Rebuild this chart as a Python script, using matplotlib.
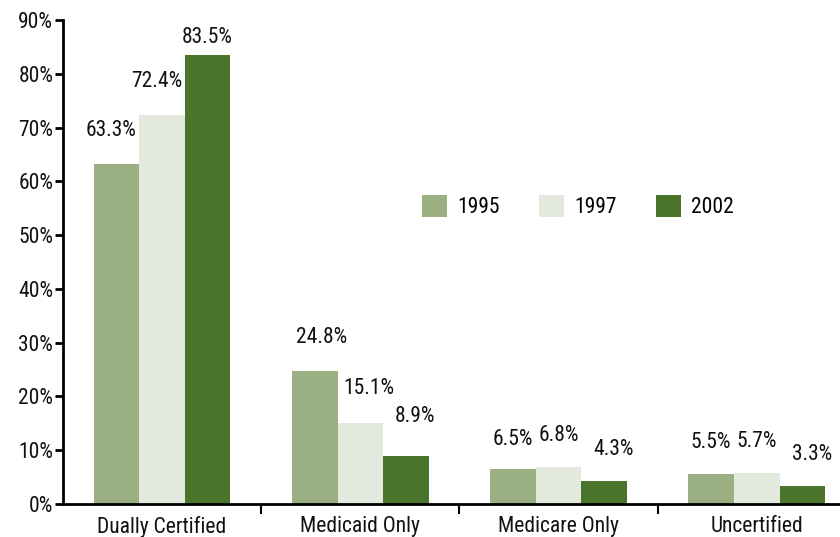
import numpy as np
import matplotlib
matplotlib.use("Agg")
import matplotlib.pyplot as plt

plt.rcParams['font.family'] = ['Roboto Condensed', 'DejaVu Sans']

categories = ['Dually Certified', 'Medicaid Only', 'Medicare Only', 'Uncertified']
years = ['1995', '1997', '2002']
v1995 = [63.3, 24.8, 6.5, 5.5]
v1997 = [72.4, 15.1, 6.8, 5.7]
v2002 = [83.5, 8.9, 4.3, 3.3]
colors = ['#9AB083', '#E4E9DE', '#4A742A']

# label offsets above bar top (pixels): dy, dx
lab_dy = [[33, 33, 30, 32], [33, 34, 32, 32], [17, 40, 31, 32]]
lab_dx = [[-5, 7, 0, 0], [-5, 9, 0, 0], [0, 9, 9, 10]]

fig = plt.figure(figsize=(8.4, 5.37), dpi=100)
ax = fig.add_axes([0.075, 0.0615, 0.925, 0.9013])

x = np.arange(len(categories))
w = 0.23
series = [v1995, v1997, v2002]
for i, vals in enumerate(series):
    xs = x + (i - 1) * w
    ax.bar(xs, vals, w, color=colors[i], label=years[i], zorder=2)
    for j, v in enumerate(vals):
        ax.annotate('%.1f%%' % v, (xs[j], v),
                    xytext=(lab_dx[i][j] * 0.72, lab_dy[i][j] * 0.72),
                    textcoords='offset points', ha='center', va='center',
                    fontsize=15.5, color='#111111')

ax.set_xlim(-0.5, 3.42)
ax.set_ylim(0, 90)
ax.set_yticks(np.arange(0, 91, 10))
ax.set_yticklabels(['%d%%' % t for t in range(0, 91, 10)])
ax.set_xticks(x)
ax.set_xticklabels(categories)
ax.set_xticks([0.5, 1.5, 2.5], minor=True)
ax.tick_params(axis='x', which='major', length=0, labelsize=15.5, pad=9, colors='#111111')
ax.tick_params(axis='x', which='minor', length=7, width=1.5, direction='out')
ax.tick_params(axis='y', length=6, width=2, labelsize=15.5, pad=1, labelcolor='#111111')

for s in ['top', 'right']:
    ax.spines[s].set_visible(False)
ax.spines['left'].set_linewidth(2)
ax.spines['bottom'].set_linewidth(2)

ax.legend(loc='center', bbox_to_anchor=(0.663, 0.614), ncol=3, frameon=False,
          fontsize=15.5, handlelength=1.15, handleheight=1.15, columnspacing=1.8,
          handletextpad=0.5)

fig.savefig('out.png', dpi=100)
